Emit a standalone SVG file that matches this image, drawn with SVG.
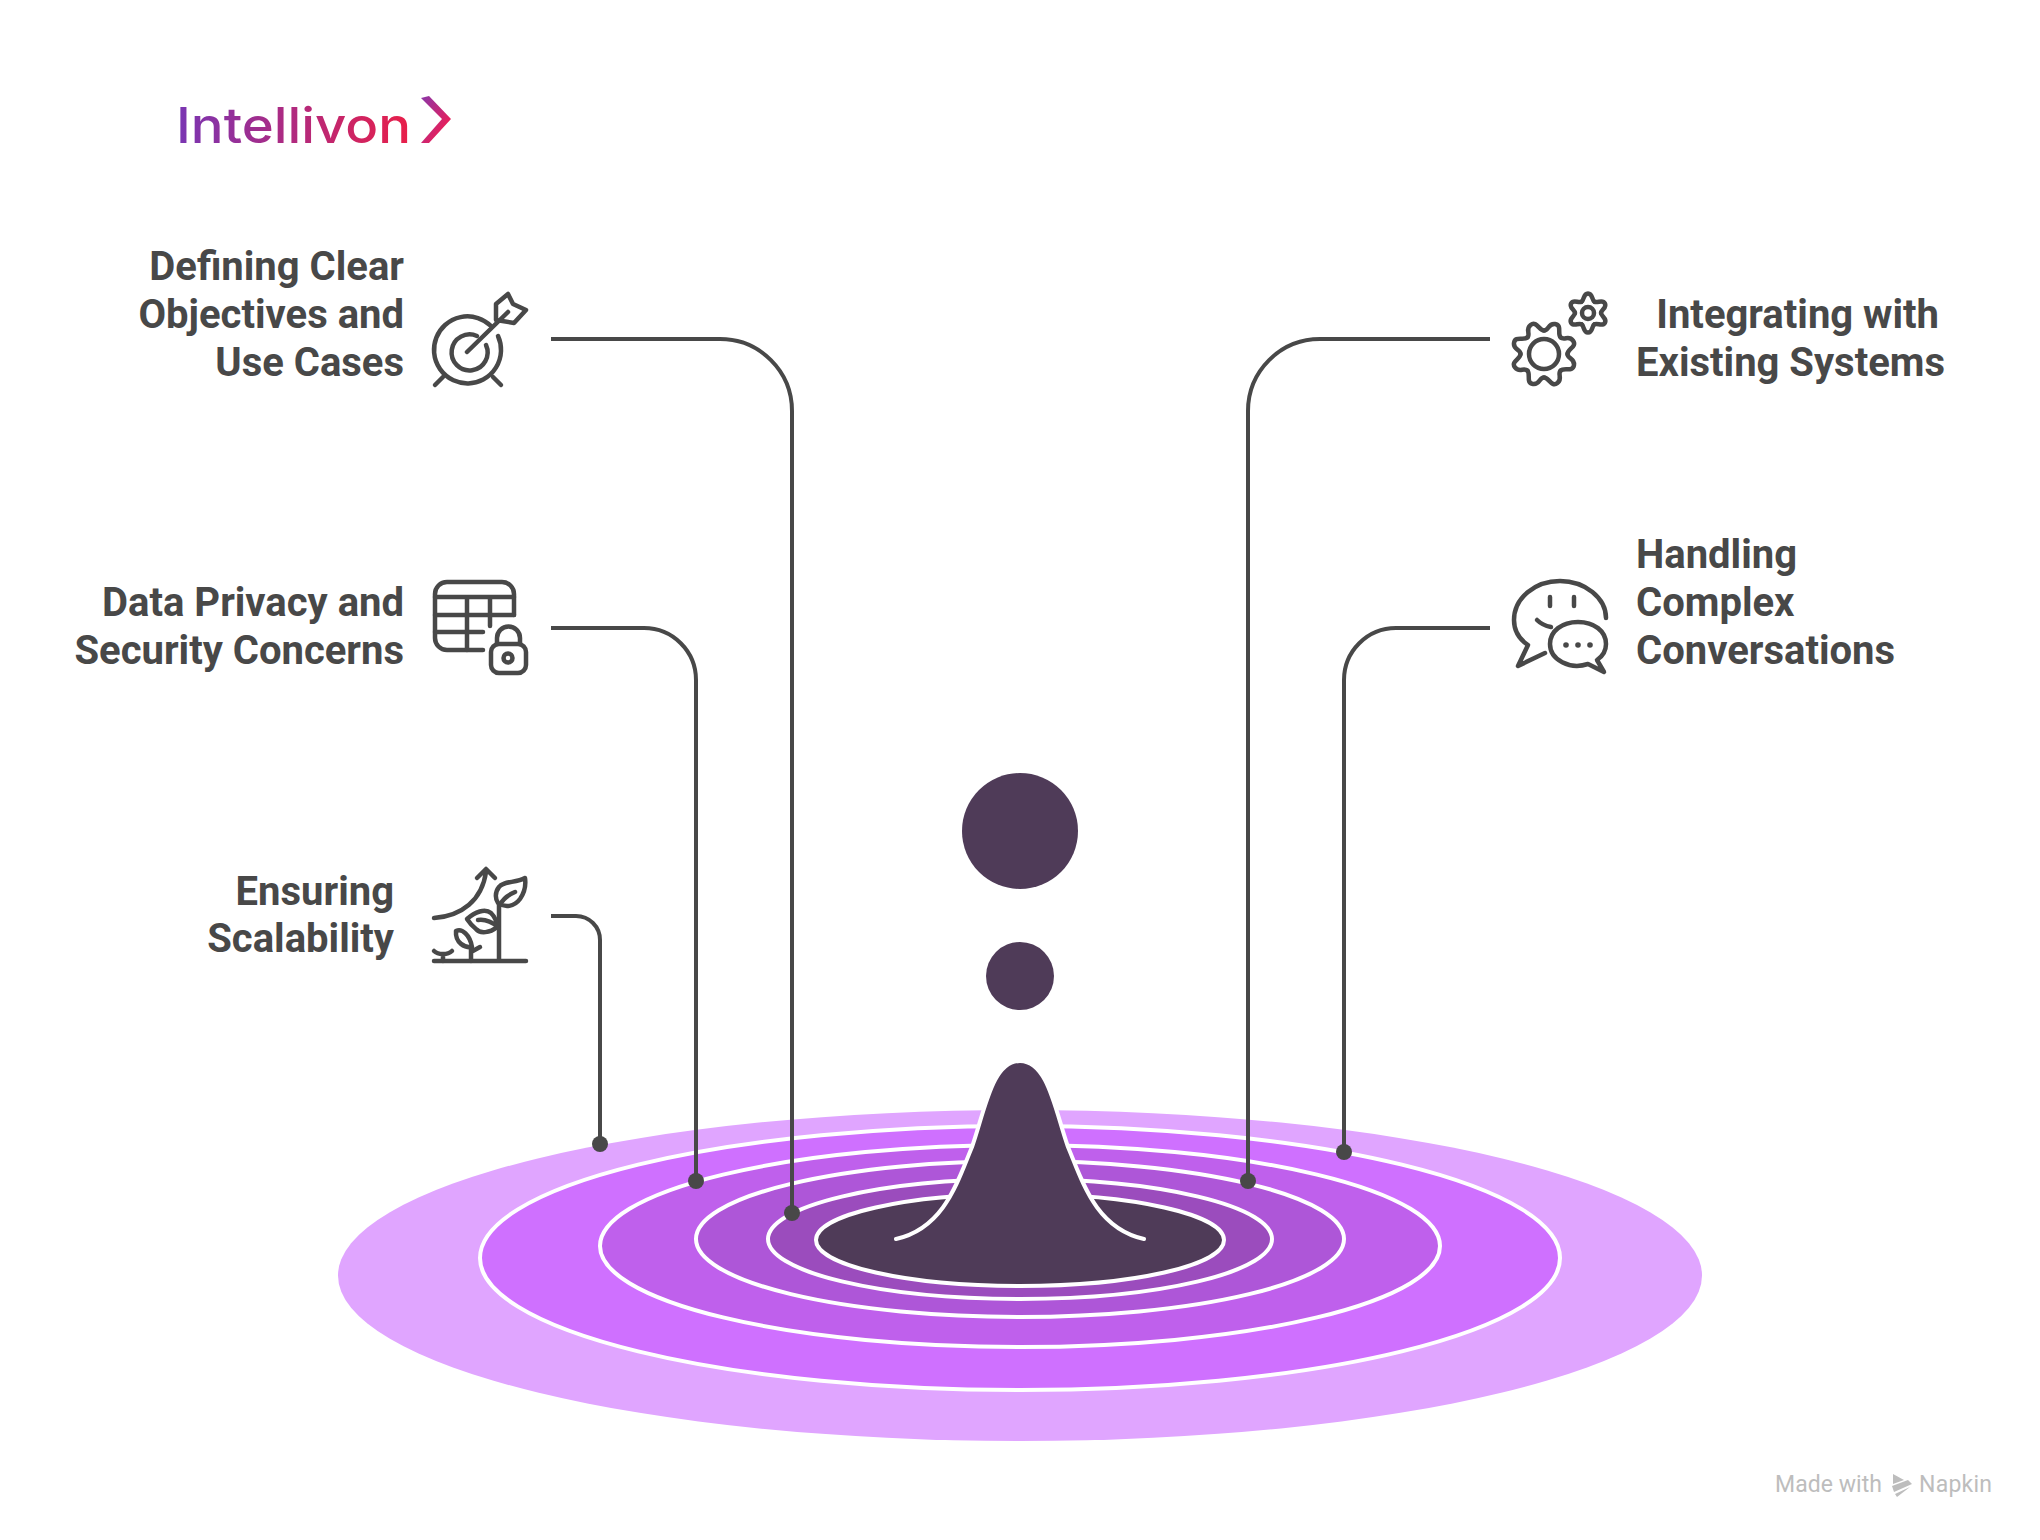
<svg xmlns="http://www.w3.org/2000/svg" width="2040" height="1540" viewBox="0 0 2040 1540">
<style>
.lbl{font-family:"Roboto","Liberation Sans",sans-serif;font-weight:700;font-size:40px;fill:#484848}
.ring{stroke:#fff;stroke-width:4}
.ic{fill:none;stroke:#484848;stroke-width:4.5;stroke-linecap:round;stroke-linejoin:round}
.cn{fill:none;stroke:#484848;stroke-width:4}
.dot{fill:#484848}
.wm{font-family:"Roboto","Liberation Sans",sans-serif;font-size:23px;fill:#bdbdbd}
</style>
<defs>
<linearGradient id="lg" gradientUnits="userSpaceOnUse" x1="179" y1="0" x2="409" y2="0"><stop offset="0" stop-color="#7a35b2"/><stop offset="1" stop-color="#e81f4a"/></linearGradient>
<linearGradient id="lg2" gradientUnits="userSpaceOnUse" x1="421" y1="100" x2="451" y2="120"><stop offset="0" stop-color="#8f35a5"/><stop offset="1" stop-color="#e81f5a"/></linearGradient>
<path id="lobeL" d="M0,-23.5C5,-23.5 4,-31 11,-30C18.5,-29 13,-20 16.6,-16.6"/>
<path id="lobeS" d="M-6.5,-11.3C-3.5,-13 -5,-19.5 0,-19.5C5,-19.5 3.5,-13 6.5,-11.3"/>
</defs>
<rect width="2040" height="1540" fill="#fff"/>
<g id="logo">
<text x="176" y="143" font-family="Inter,Lato,sans-serif" font-weight="500" font-size="49" textLength="235" lengthAdjust="spacingAndGlyphs" fill="url(#lg)">Intellivon</text>
<polygon points="421,98 429,96 451,119 429,143 421,143 442,119" fill="url(#lg2)"/>
</g>
<g id="ripples">
<ellipse cx="1020" cy="1275.5" rx="682" ry="165.5" fill="#e0a5ff"/>
<ellipse class="ring" cx="1020" cy="1258" rx="540" ry="132" fill="#cf70ff"/>
<ellipse class="ring" cx="1020" cy="1246" rx="420" ry="101" fill="#bf60ec"/>
<ellipse class="ring" cx="1020" cy="1239" rx="324" ry="78" fill="#ae56d8"/>
<ellipse class="ring" cx="1020" cy="1239" rx="252" ry="60" fill="#9b4cbd"/>
<ellipse class="ring" cx="1020" cy="1240" rx="204" ry="46" fill="#4f3b58"/>
</g>
<g id="drop">
<path d="M896,1239C945,1228 958,1180 972,1147C985,1110 992,1061 1020,1061C1048,1061 1055,1110 1068,1147C1082,1180 1095,1228 1144,1239" fill="#4f3b58" stroke="#fff" stroke-width="4" stroke-linecap="round"/>
<circle cx="1020" cy="976" r="34" fill="#4f3b58"/>
<circle cx="1020" cy="831" r="58" fill="#4f3b58"/>
</g>
<g id="connectors">
<path class="cn" d="M551,339H720A72,72 0 0 1 792,411V1213"/>
<path class="cn" d="M551,628H644A52,52 0 0 1 696,680V1181"/>
<path class="cn" d="M551,916H576A24,24 0 0 1 600,940V1144"/>
<path class="cn" d="M1490,339H1320A72,72 0 0 0 1248,411V1181"/>
<path class="cn" d="M1490,628H1396A52,52 0 0 0 1344,680V1152"/>
<circle class="dot" cx="792" cy="1213" r="8"/>
<circle class="dot" cx="696" cy="1181" r="8"/>
<circle class="dot" cx="600" cy="1144" r="8"/>
<circle class="dot" cx="1248" cy="1181" r="8"/>
<circle class="dot" cx="1344" cy="1152" r="8"/>
</g>
<g id="node-objectives">
<text class="lbl" text-anchor="end" x="404" y="280">Defining Clear</text>
<text class="lbl" text-anchor="end" x="404" y="328">Objectives and</text>
<text class="lbl" text-anchor="end" x="404" y="376">Use Cases</text>
<g class="ic">
<path d="M491,326A33.5,33.5 0 1 0 498,336"/>
<path d="M477,336A18,18 0 1 0 486,345"/>
<path d="M443,377L435,385M493,377L501,385"/>
<path d="M467,352L508,312"/>
<path d="M496,304L508,294L513,304L526,310L514,323L496,320Z"/>
</g>
</g>
<g id="node-privacy">
<text class="lbl" text-anchor="end" x="404" y="616">Data Privacy and</text>
<text class="lbl" text-anchor="end" x="404" y="664">Security Concerns</text>
<g class="ic">
<path d="M483,650H447A12,12 0 0 1 435,638V594A12,12 0 0 1 447,582H502A12,12 0 0 1 514,594V615"/>
<path d="M435,597H514M435,615H514M435,632H483M467,597V650M490,597V626"/>
<rect x="491" y="644" width="35" height="29" rx="8"/>
<path d="M497,644V638A11.5,11.5 0 0 1 520,638V644"/>
<circle cx="508" cy="658" r="4.5"/>
</g>
</g>
<g id="node-scalability">
<text class="lbl" text-anchor="end" x="394" y="905">Ensuring</text>
<text class="lbl" text-anchor="end" x="394" y="952">Scalability</text>
<g class="ic">
<path d="M434,961H526M499,961V905"/>
<path d="M525,878C516,883 503,881 499,887C495,892 495,899 498,903C505,908 514,907 520,899C525,892 526,885 525,878Z"/>
<path d="M500,905C503,898 508,895 515,892"/>
<path d="M467,919C475,912 485,908 491,913C495,917 497,922 497,927C490,933 480,934 476,929C472,926 469,922 467,919Z"/>
<path d="M478,920C485,919 492,922 498,927"/>
<path d="M456,931C462,928 470,935 472,947C465,948 455,943 456,931Z"/>
<path d="M471,961V947M471,952L480,947"/>
<path d="M443,961V955M434,951C438,955 448,955 452,951"/>
<path d="M434,918C462,916 482,900 486,872M477,878L486,869L495,878"/>
</g>
</g>
<g id="node-integrating">
<text class="lbl" text-anchor="end" x="1939" y="328">Integrating with</text>
<text class="lbl" text-anchor="end" x="1945" y="376">Existing Systems</text>
<g class="ic">
<circle cx="1544" cy="354" r="15"/>
<g transform="translate(1544 354)">
<use href="#lobeL"/><use href="#lobeL" transform="rotate(45)"/><use href="#lobeL" transform="rotate(90)"/><use href="#lobeL" transform="rotate(135)"/><use href="#lobeL" transform="rotate(180)"/><use href="#lobeL" transform="rotate(225)"/><use href="#lobeL" transform="rotate(270)"/><use href="#lobeL" transform="rotate(315)"/>
</g>
<circle cx="1588" cy="313" r="6"/>
<g transform="translate(1588 313)">
<use href="#lobeS"/><use href="#lobeS" transform="rotate(60)"/><use href="#lobeS" transform="rotate(120)"/><use href="#lobeS" transform="rotate(180)"/><use href="#lobeS" transform="rotate(240)"/><use href="#lobeS" transform="rotate(300)"/>
</g>
</g>
</g>
<g id="node-conversations">
<text class="lbl" x="1636" y="568">Handling</text>
<text class="lbl" x="1636" y="616">Complex</text>
<text class="lbl" x="1636" y="664">Conversations</text>
<g class="ic">
<path d="M1606,618C1606,598 1585,581 1560,581C1535,581 1514,598 1514,620C1514,630 1519,639 1528,645L1518,666L1545,653"/>
<path d="M1550,597V606M1574,597V606M1537,620C1541,624 1546,626 1551,627"/>
<path d="M1597,660L1604,672L1588,664C1570,670 1550,660 1550,644C1550,631 1562,622 1578,622C1594,622 1606,631 1606,644C1606,650 1603,656 1597,660Z"/>
</g>
<circle class="dot" cx="1566" cy="645" r="2.8"/><circle class="dot" cx="1578" cy="645" r="2.8"/><circle class="dot" cx="1590" cy="645" r="2.8"/>
</g>
<g id="watermark">
<text class="wm" x="1775" y="1492" textLength="107">Made with</text>
<polygon points="1893,1474 1904,1480 1893,1484" fill="#bdbdbd"/>
<polygon points="1892,1486 1908,1480 1912,1484 1894,1492" fill="#bdbdbd"/>
<polygon points="1895,1494 1910,1487 1897,1497" fill="#bdbdbd"/>
<text class="wm" x="1919" y="1492" textLength="73">Napkin</text>
</g>
</svg>
